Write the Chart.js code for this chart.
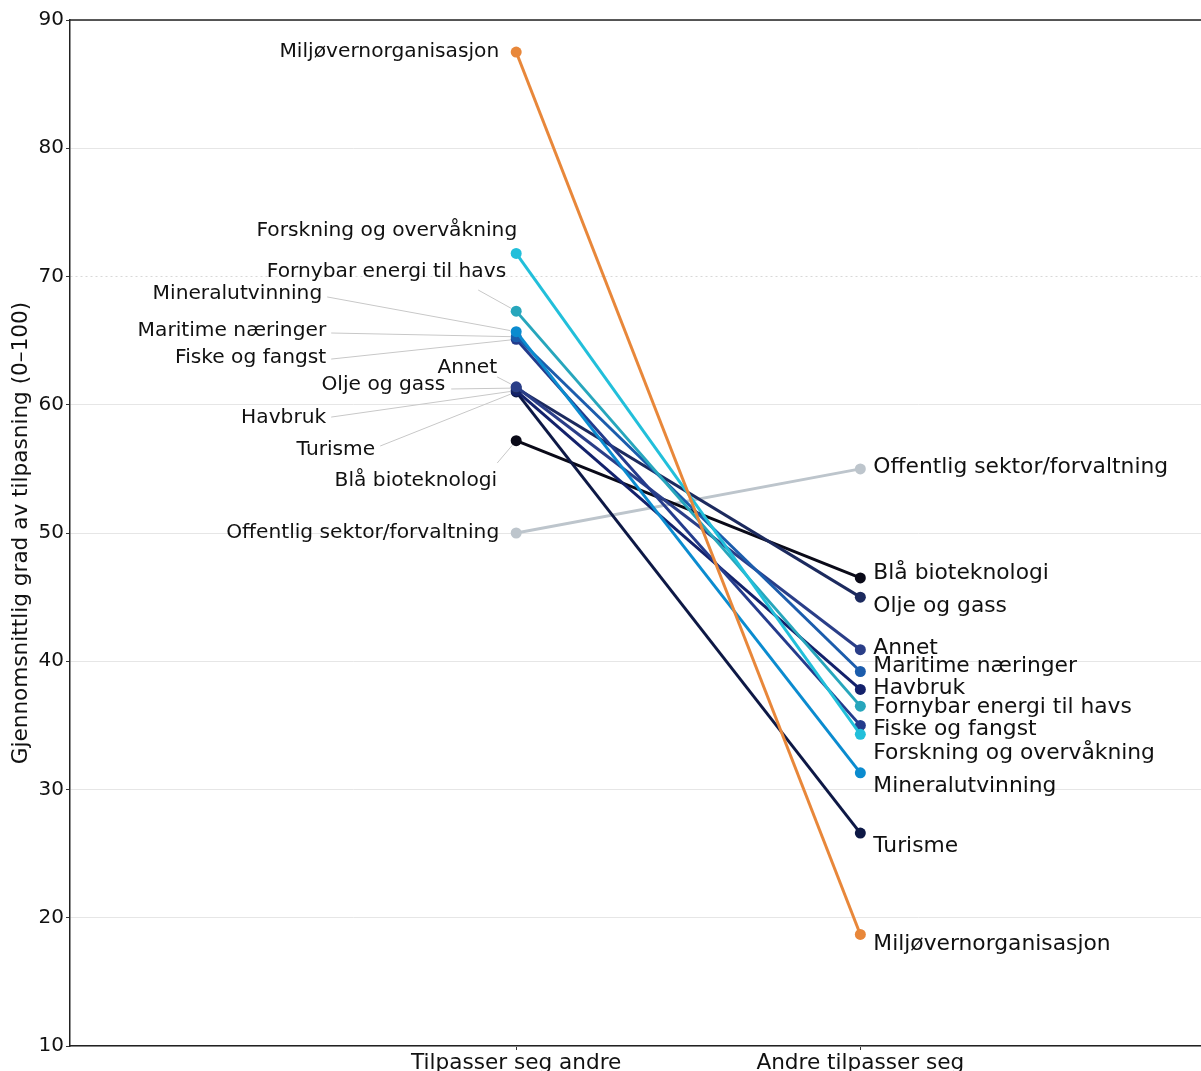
<!DOCTYPE html>
<html>
<head>
<meta charset="utf-8">
<script src="https://cdn.jsdelivr.net/npm/chart.js@4"></script>
<style>
html, body { margin: 0; padding: 0; background: #fff; overflow: hidden; }
</style>
</head>
<body>
<canvas id="chart" width="1207" height="1071"></canvas>
<script>
// data
var categories = ["Tilpasser seg andre", "Andre tilpasser seg"];
var groups = ["Miljøvernorganisasjon", "Forskning og overvåkning", "Fornybar energi til havs",
    "Mineralutvinning", "Maritime næringer", "Fiske og fangst", "Annet", "Olje og gass",
    "Havbruk", "Turisme", "Blå bioteknologi", "Offentlig sektor/forvaltning"];
var leftValues = [87.5, 71.8, 67.3, 65.7, 65.3, 65.1, 61.4, 61.3, 61.1, 61.0, 57.2, 50.0];
var rightValues = [18.7, 34.3, 36.5, 31.3, 39.2, 35.0, 40.9, 45.0, 37.8, 26.6, 46.5, 55.0];
var yTicks = [10, 20, 30, 40, 50, 60, 70, 80, 90];
var yTitle = "Gjennomsnittlig grad av tilpasning (0–100)";

var colors = ['#e8873a', '#22bfda', '#27a6bc', '#0b8bcf', '#1b5cac', '#243b8c',
    '#2a3e88', '#1c2a5e', '#13216b', '#0d1845', '#0a0a18', '#bdc5cc'];

// label layout (label y in value units, x offsets in px)
var leftLabelY = [87.5, 73.55, 70.35, 68.64, 65.75, 63.64, 62.87, 61.54, 58.96, 56.47, 54.05, 50.0];
var leftLabelDx = [-17, 1, -10, -194, -190, -190, -19, -71, -190, -141, -19, -17];
var leftLeader = [null, null, [-28, 18], [5, 3], [5, 2], [5, 1], [0, 9], [6, 4], [5, -1], [5, -4], [0, -18], null];
var rightLabelY = [17.95, 32.85, 36.43, 30.27, 39.63, 34.72, 41.03, 44.31, 37.91, 25.59, 46.88, 55.15];
var rightLabelDx = 13;

var FONT = "'DejaVu Sans', sans-serif";

var datasets = groups.map(function (g, i) {
    return {
        label: g,
        data: [{x: 0, y: leftValues[i]}, {x: 1, y: rightValues[i]}],
        borderColor: colors[i],
        backgroundColor: colors[i],
        borderWidth: 3,
        pointRadius: 5.5,
        pointBorderWidth: 0,
        pointHoverRadius: 5.5
    };
});

var labelPlugin = {
    id: 'slopeLabels',
    afterDatasetsDraw: function (chart) {
        var ctx = chart.ctx;
        var xs = chart.scales.x, ys = chart.scales.y;
        var area = chart.chartArea;
        ctx.save();
        // top frame
        ctx.strokeStyle = '#222';
        ctx.lineWidth = 1.5;
        ctx.beginPath();
        ctx.moveTo(area.left, area.top);
        ctx.lineTo(area.right, area.top);
        ctx.stroke();

        ctx.textBaseline = 'middle';
        ctx.fillStyle = '#111';
        var x0 = xs.getPixelForValue(0), x1 = xs.getPixelForValue(1);
        for (var i = 0; i < groups.length; i++) {
            // left side
            var tx = x0 + leftLabelDx[i];
            var ty = ys.getPixelForValue(leftLabelY[i]);
            ctx.font = '20.2px ' + FONT;
            ctx.textAlign = 'right';
            ctx.fillText(groups[i], tx, ty);
            if (leftLeader[i]) {
                var sx = tx + leftLeader[i][0], sy = ty + leftLeader[i][1];
                var px = x0, py = ys.getPixelForValue(leftValues[i]);
                var dx = sx - px, dy = sy - py, d = Math.sqrt(dx * dx + dy * dy);
                ctx.strokeStyle = '#c8c8c8';
                ctx.lineWidth = 1;
                ctx.beginPath();
                ctx.moveTo(sx, sy);
                ctx.lineTo(px + dx / d * 6, py + dy / d * 6);
                ctx.stroke();
            }
            // right side
            ctx.font = '21.8px ' + FONT;
            ctx.textAlign = 'left';
            ctx.fillText(groups[i], x1 + rightLabelDx, ys.getPixelForValue(rightLabelY[i]));
        }
        ctx.restore();
    }
};

new Chart(document.getElementById('chart').getContext('2d'), {
    type: 'line',
    data: {datasets: datasets},
    plugins: [labelPlugin],
    options: {
        responsive: false,
        animation: false,
        layout: {padding: {top: 20, right: 0, left: 0, bottom: 0}},
        plugins: {legend: {display: false}, tooltip: {enabled: false}},
        scales: {
            x: {
                type: 'linear',
                min: -1.2965,
                max: 1.9913,
                afterBuildTicks: function (scale) {
                    scale.ticks = [{value: 0}, {value: 1}];
                },
                afterFit: function (scale) { scale.height = 25; },
                ticks: {
                    color: '#111',
                    padding: 0,
                    font: {family: FONT, size: 21.6},
                    callback: function (v) { return categories[v]; }
                },
                grid: {drawOnChartArea: false, drawTicks: true, tickLength: 4, tickColor: '#333'},
                border: {color: '#222', width: 1.5}
            },
            y: {
                min: 10,
                max: 90,
                afterBuildTicks: function (scale) {
                    scale.ticks = yTicks.map(function (v) { return {value: v}; });
                },
                afterFit: function (scale) { scale.width = 70; },
                ticks: {color: '#111', padding: 2, font: {family: FONT, size: 20}},
                grid: {
                    color: function (c) { return c.tick && c.tick.value === 70 ? '#d8d8d8' : '#e6e6e6'; },
                    lineWidth: 1,
                    tickLength: 4,
                    tickColor: '#333'
                },
                border: {
                    color: '#222',
                    width: 1.5,
                    dash: function (c) { return c.tick && c.tick.value === 70 ? [2, 3] : []; }
                },
                title: {
                    display: true,
                    text: yTitle,
                    color: '#111',
                    font: {family: FONT, size: 21.6},
                    padding: {top: 8, bottom: 0}
                }
            }
        }
    }
});
</script>
</body>
</html>
